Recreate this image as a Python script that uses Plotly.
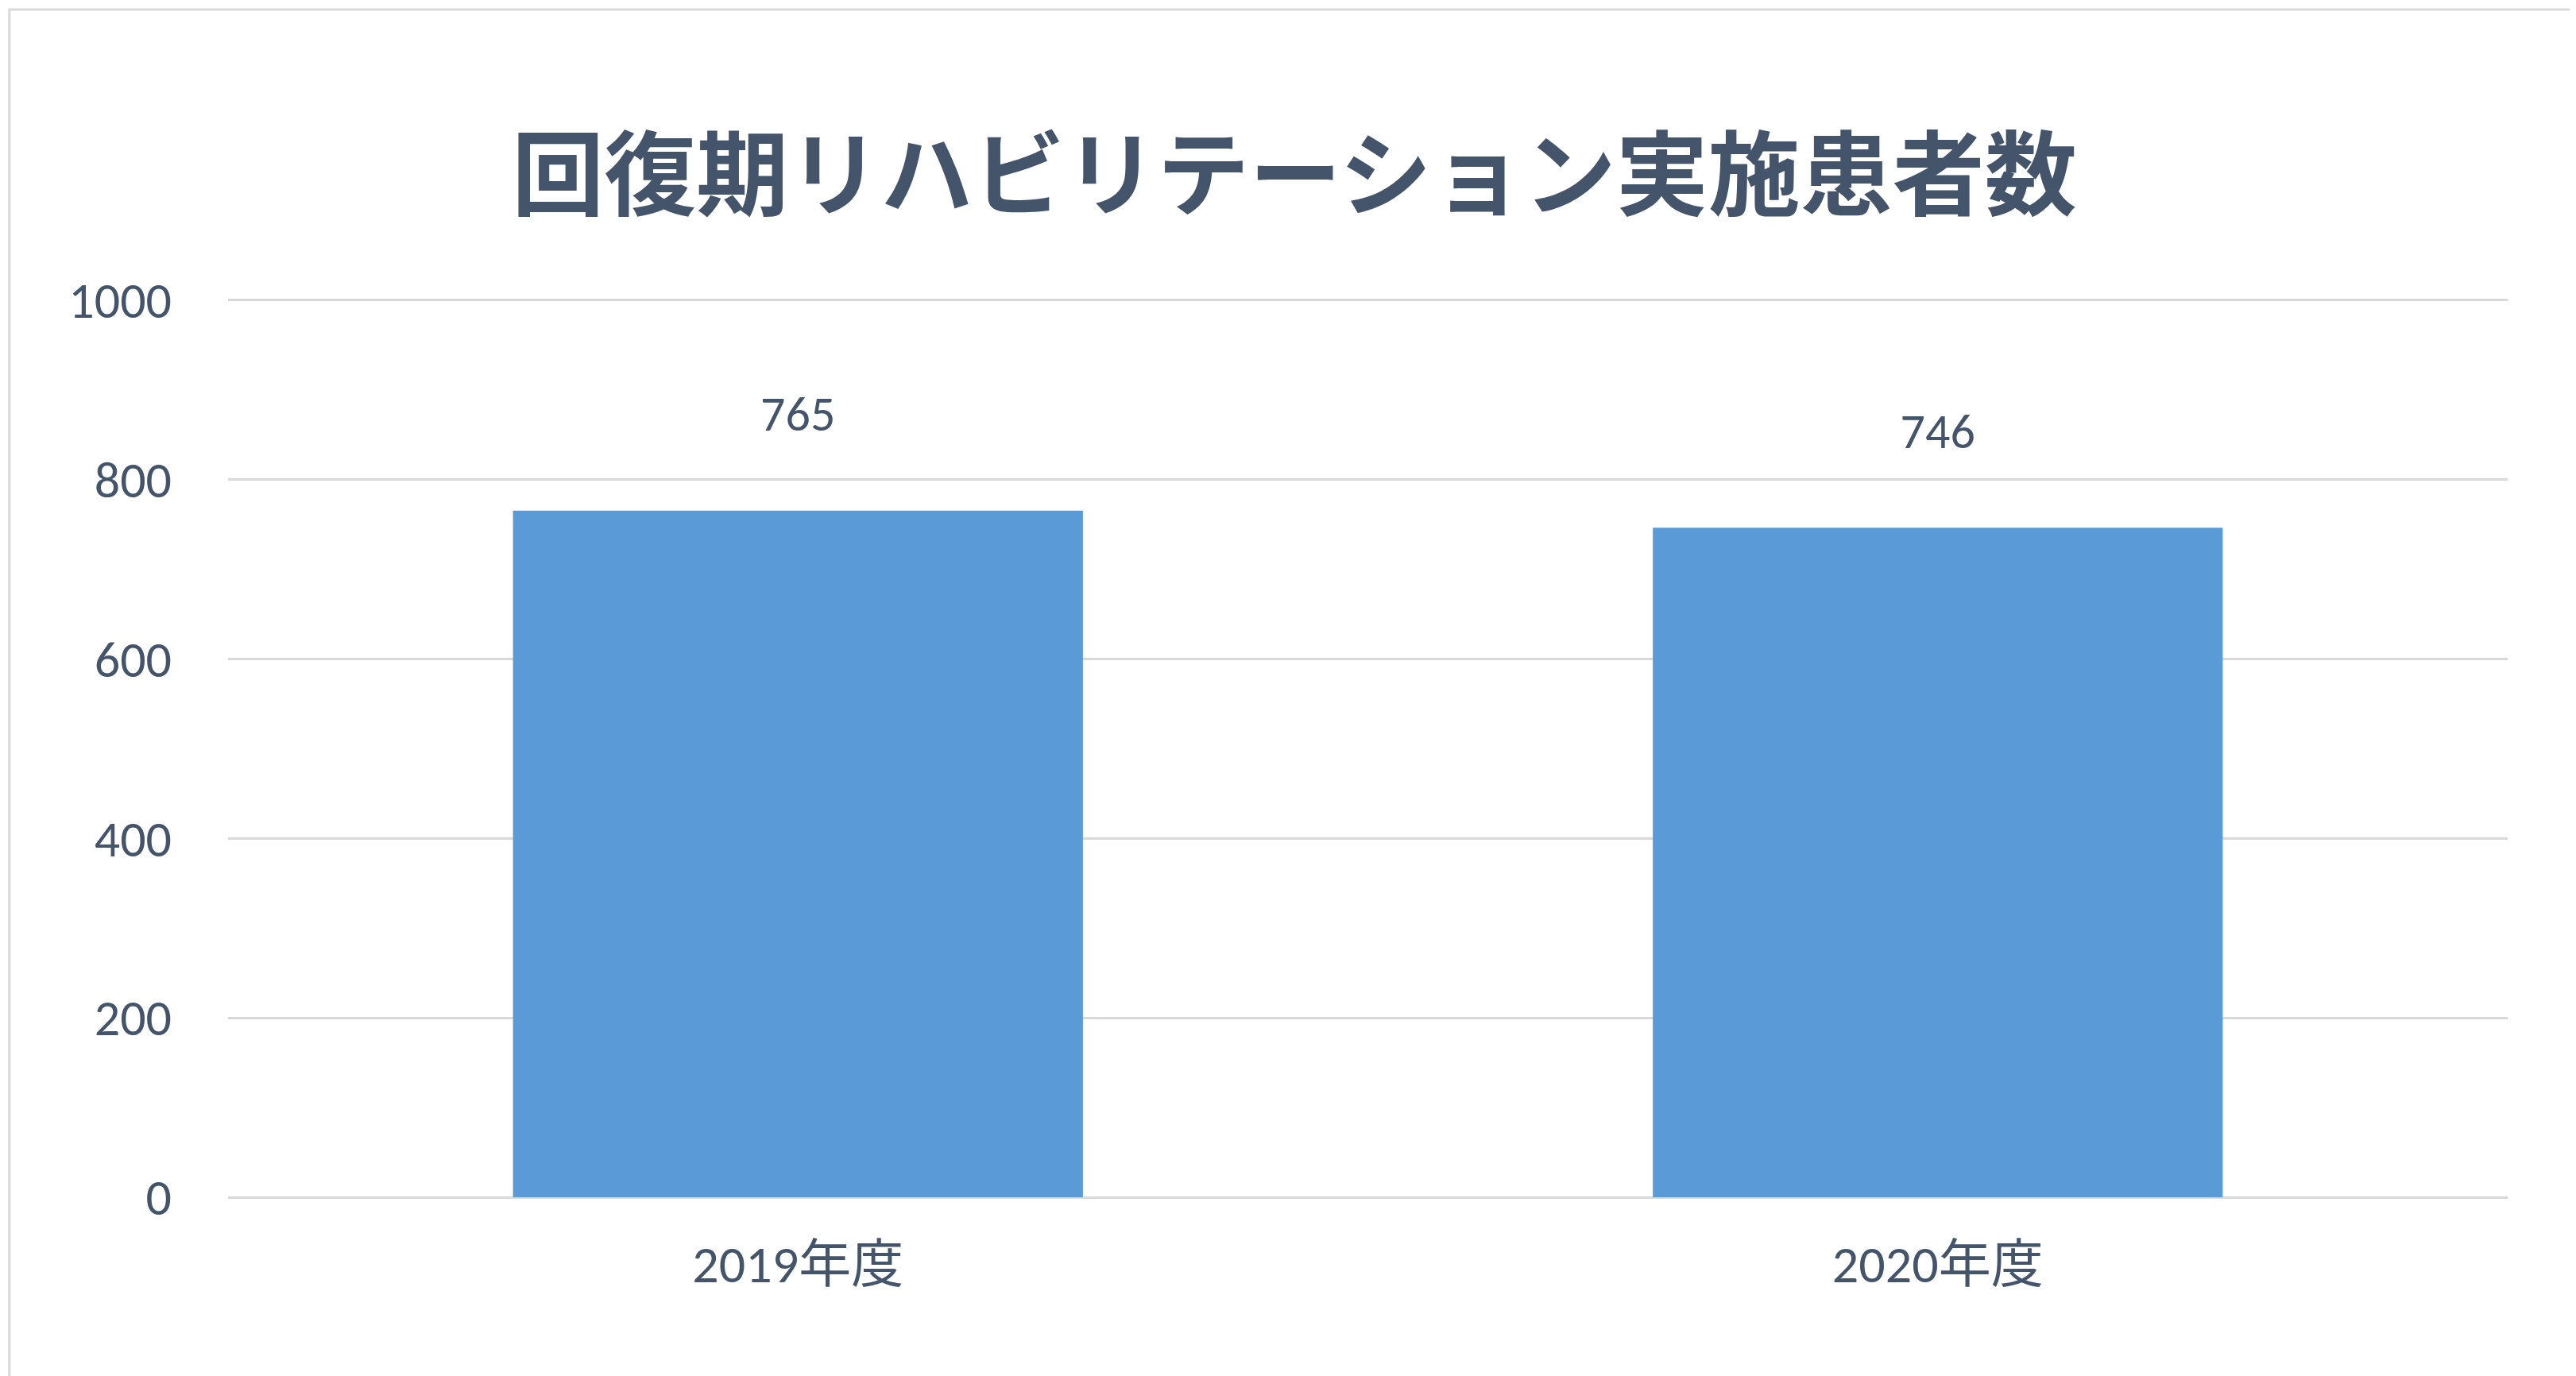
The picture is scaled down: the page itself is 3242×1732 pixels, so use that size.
import plotly.graph_objects as go

categories = ['2019年度', '2020年度']
patients = [765, 746]
y_ticks = [0, 200, 400, 600, 800, 1000]

fig = go.Figure()

fig.add_trace(go.Bar(
    x=categories,
    y=patients,
    width=0.5,
    texttemplate='%{y}<br> ',
    textposition='outside',
    textfont=dict(size=62, color='#44546A', family='Carlito, Noto Sans CJK JP'),
    cliponaxis=False,
    marker=dict(color='#5A9AD6', line=dict(width=0))
))

fig.update_layout(
    width=3242,
    height=1732,
    showlegend=False,
    plot_bgcolor='white',
    paper_bgcolor='white',
    font=dict(family='Carlito, Noto Sans CJK JP', color='#44546A'),
    title=dict(
        text='<b>回復期リハビリテーション実施患者数</b>',
        x=0.5,
        xanchor='center',
        y=0.877,
        yanchor='middle',
        font=dict(size=116, color='#44546A', family='Noto Sans CJK JP')
    ),
    margin=dict(l=279, r=94, t=366, b=233),
    bargap=0.5,
    xaxis=dict(
        showline=False,
        ticks='',
        ticklabelstandoff=40,
        tickfont=dict(size=66, color='#44546A', family='Carlito, Noto Sans CJK JP')
    ),
    yaxis=dict(
        range=[0, 1003],
        tickvals=y_ticks,
        gridcolor='#D9D9D9',
        gridwidth=3,
        zeroline=True,
        zerolinecolor='#D9D9D9',
        zerolinewidth=3,
        ticklabelstandoff=70,
        tickfont=dict(size=64, color='#44546A', family='Carlito, Noto Sans CJK JP')
    ),
    shapes=[dict(type='rect', xref='paper', yref='paper',
                 x0=-0.0959, x1=1.0314, y0=-0.202, y1=1.3195,
                 line=dict(color='#D9D9D9', width=3))]
)

fig.write_html('out.html')
